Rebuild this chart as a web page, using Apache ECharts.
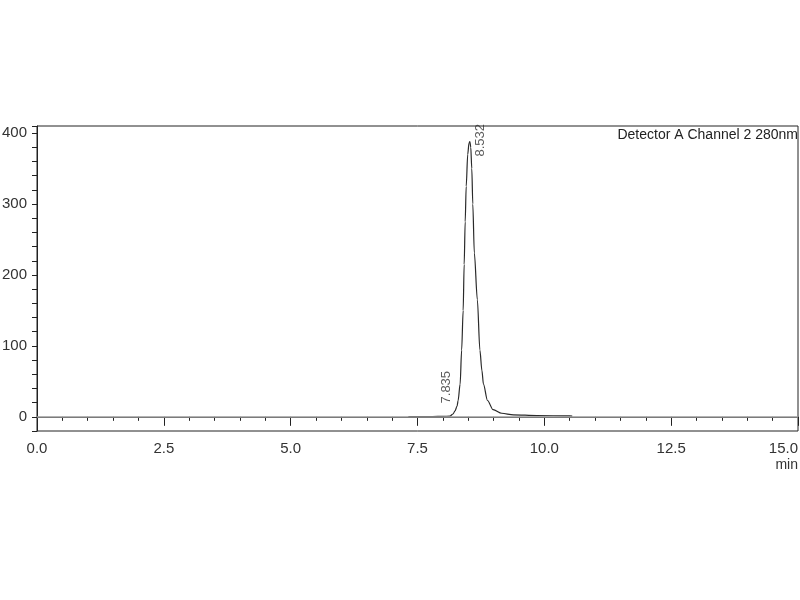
<!DOCTYPE html>
<html>
<head>
<meta charset="utf-8">
<script src="https://cdn.jsdelivr.net/npm/echarts@6/dist/echarts.min.js"></script>
<style>
    html, body { margin: 0; padding: 0; background: #fff; }
    #main { width: 800px; height: 600px; }
</style>
</head>
<body>
<div id="main"></div>
<script>
    // retention time (min) and detector signal (mAU)
    var timeMin = [7.32, 7.8, 8.0, 8.14, 8.2, 8.24, 8.28, 8.30, 8.34, 8.37, 8.40, 8.42, 8.44, 8.46, 8.49, 8.515, 8.532,
        8.55, 8.57, 8.59, 8.62, 8.68, 8.73, 8.77, 8.80, 8.88, 8.99, 9.16, 9.39, 9.85, 10.5, 10.55];
    var signal = [0.3, 0.4, 0.6, 1, 4, 8.5, 15, 22.7, 46, 94, 150, 215, 275, 325, 370, 386, 388,
        380, 350, 300, 231, 165, 94, 65, 46, 23, 10, 5, 2.8, 1.8, 1.2, 1.0];
    var peakTimes = [7.835, 8.532];
    var peakHeights = [0.5, 388];
    var peakLabelPos = [[12, -13], [11, 15]];
    var xTicks = [0, 2.5, 5, 7.5, 10, 12.5, 15];
    var yTicks = [0, 100, 200, 300, 400];

    var chart = echarts.init(document.getElementById('main'), null, { renderer: 'canvas' });

    var trace = [];
    for (var i = 0; i < timeMin.length; i++) {
        trace.push([timeMin[i], signal[i]]);
    }
    var peaks = [];
    for (var j = 0; j < peakTimes.length; j++) {
        peaks.push({
            value: [peakTimes[j], peakHeights[j]],
            name: peakTimes[j].toFixed(3),
            label: { position: peakLabelPos[j] }
        });
    }

    var option = {
        animation: false,
        backgroundColor: '#fff',
        title: [
            {
                text: 'Detector A Channel 2 280nm',
                right: 2,
                top: 128,
                padding: 0,
                textStyle: { fontFamily: 'Liberation Sans', fontSize: 14, fontWeight: 'normal', color: '#222' }
            },
            {
                // x axis unit, sits under the last tick label
                text: 'min',
                right: 2,
                top: 458,
                padding: 0,
                textStyle: { fontFamily: 'Liberation Sans', fontSize: 14, fontWeight: 'normal', color: '#333' }
            }
        ],
        grid: {
            left: 37, right: 2, top: 126, bottom: 169,
            containLabel: false,
            outerBoundsMode: 'none',
            show: true, borderColor: '#222', borderWidth: 1
        },
        xAxis: {
            type: 'value',
            min: xTicks[0],
            max: xTicks[xTicks.length - 1],
            interval: 2.5,
            axisLine: { lineStyle: { color: '#222', width: 1 } },
            axisTick: { length: 9, lineStyle: { color: '#222' } },
            minorTick: { show: true, splitNumber: 5, length: 4, lineStyle: { color: '#222' } },
            splitLine: { show: false },
            axisLabel: {
                margin: 10,
                alignMaxLabel: 'right',
                fontFamily: 'Liberation Sans', fontSize: 15, color: '#333',
                formatter: function (v) { return v.toFixed(1); }
            }
        },
        yAxis: {
            type: 'value',
            min: -20,
            max: 410,
            interval: 20,
            axisLine: { show: true, lineStyle: { color: '#222', width: 1 } },
            axisTick: { show: true, length: 5, lineStyle: { color: '#222' } },
            splitLine: { show: false },
            axisLabel: {
                margin: 10,
                fontFamily: 'Liberation Sans', fontSize: 15, color: '#333',
                formatter: function (v) { return yTicks.indexOf(v) >= 0 ? String(v) : ''; }
            }
        },
        series: [
            {
                type: 'line',
                data: trace,
                showSymbol: false,
                smooth: 0.3,
                smoothMonotone: 'x',
                lineStyle: { color: '#2a2a2a', width: 1.2 },
                markLine: {
                    silent: true,
                    symbol: 'none',
                    label: { show: false },
                    lineStyle: { color: '#9a9a9a', width: 1.5, type: 'solid' },
                    data: [{ yAxis: 0 }]
                },
                z: 3
            },
            {
                type: 'scatter',
                data: peaks,
                symbolSize: 0,
                label: {
                    show: true,
                    formatter: '{b}',
                    rotate: 90,
                    align: 'left',
                    verticalAlign: 'middle',
                    fontFamily: 'Liberation Sans',
                    fontSize: 13,
                    color: '#333'
                },
                z: 4
            }
        ]
    };

    chart.setOption(option);
    window.addEventListener('resize', chart.resize);
</script>
</body>
</html>
